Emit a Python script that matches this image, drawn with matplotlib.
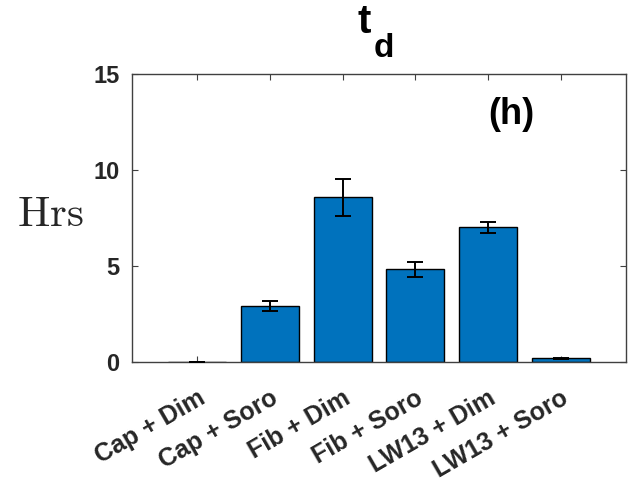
import matplotlib
matplotlib.use("Agg")
import matplotlib.pyplot as plt
from matplotlib.transforms import ScaledTranslation

# Doubling time per treatment
categories = ["Cap + Dim", "Cap + Soro", "Fib + Dim", "Fib + Soro", "LW13 + Dim", "LW13 + Soro"]
td_hours = [0.0, 2.92, 8.58, 4.84, 7.01, 0.20]
td_err = [0.02, 0.28, 0.95, 0.39, 0.27, 0.03]
y_ticks = [0, 5, 10, 15]

bar_color = "#0072BD"
axis_color = "#404040"
sans = ["Liberation Sans", "DejaVu Sans"]

fig = plt.figure(figsize=(6.41, 4.83), dpi=100)
ax = fig.add_axes([132 / 641, 1 - 362 / 483, 494 / 641, 288 / 483])

x = list(range(1, len(categories) + 1))
ax.bar(x, td_hours, width=0.8, color=bar_color, edgecolor="black", linewidth=1.0, zorder=2)
ax.errorbar(x, td_hours, yerr=td_err, fmt="none", ecolor="black", elinewidth=1.4,
            capsize=5.5, capthick=1.4, zorder=3)

ax.set_xlim(0.1, 6.9)
ax.set_ylim(0, 15)
ax.set_yticks(y_ticks)
ax.set_yticklabels([str(v) for v in y_ticks], fontfamily=sans, fontweight="bold", fontsize=17,
                   color="#262626")
ax.set_xticks(x)
ax.set_xticklabels(categories, fontfamily=sans, fontweight="bold", fontsize=18,
                   rotation=30, ha="right", va="top", rotation_mode="anchor", color="#262626")
shift = ScaledTranslation(11 / 100, 0, fig.dpi_scale_trans)
for lbl in ax.get_xticklabels():
    lbl.set_transform(lbl.get_transform() + shift)

ax.tick_params(axis="both", direction="in", length=4, width=0.8, color=axis_color,
               top=True, right=True)
ax.tick_params(axis="x", pad=17)
ax.tick_params(axis="y", pad=9)
for s in ax.spines.values():
    s.set_color(axis_color)
    s.set_linewidth(1.0)

ax.set_ylabel(r"$\mathrm{Hrs}$", rotation=0, fontsize=31, math_fontfamily="cm",
              color="#262626", ha="center", va="center")
ax.yaxis.set_label_coords(-0.166, 0.514)

ax.text(0.767, 0.861, "(h)", transform=ax.transAxes, fontfamily=sans, fontweight="bold",
        fontsize=26, ha="center", va="center", color="black")

# Title t_d drawn as base letter plus subscript
fig.text(358 / 641, 1 - 33 / 483, "t", fontfamily=sans, fontweight="bold", fontsize=29,
         ha="left", va="baseline", color="black")
fig.text(374 / 641, 1 - 57 / 483, "d", fontfamily=sans, fontweight="bold", fontsize=24,
         ha="left", va="baseline", color="black")

fig.savefig("out.png", dpi=100)
